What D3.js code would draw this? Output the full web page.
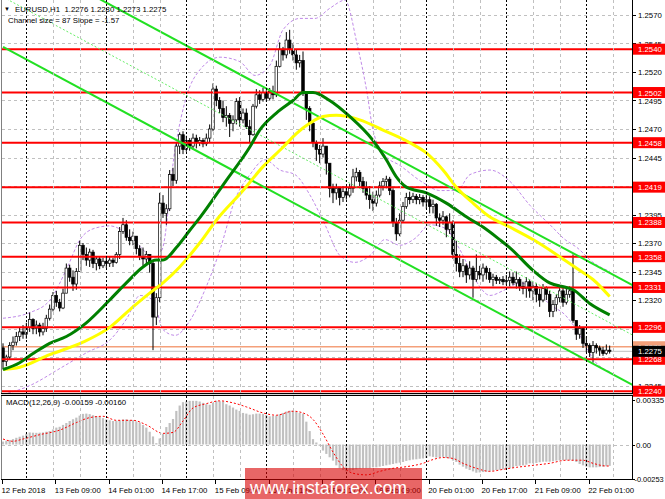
<!DOCTYPE html>
<html><head><meta charset="utf-8">
<script src="https://cdn.jsdelivr.net/npm/d3@7"></script>
<style>body{margin:0;background:#fff}svg{display:block}text{font-family:"Liberation Sans",Arial,sans-serif}</style>
</head><body><svg id="c" width="665" height="499"></svg>
<script>
// ---- data (prices as 4-digit fraction: 2275 -> 1.2275) ----
const firstOpen = 2278;
const closes = [2266,2270,2280,2283,2288,2292,2290,
2296,2303,2295,2298,2292,2295,2304,2312,2324,2318,2313,2326,
2348,2340,2334,2345,2368,2360,2355,2362,2352,2356,2350,2354,
2352,2355,2353,2360,2380,2386,2375,2372,2376,2365,2358,2356,2360,2352,
2305,2322,2405,2396,2400,2430,2425,2455,2465,2452,
2460,2455,2462,2458,2460,2457,2462,2470,2505,2495,2488,2480,
2482,2475,2478,2494,2478,2484,2472,2465,2490,2500,2496,2502,
2497,2503,2500,2525,2540,2535,2548,2540,2535,2528,2530,2502,
2488,2475,2458,2452,2448,2455,2440,2418,2414,2418,2410,2415,
2412,2418,2428,2432,2424,2418,2412,2408,2405,2412,2420,2424,
2426,2416,2388,2378,2390,2402,2410,2408,2411,2408,2410,2406,
2408,2402,2404,2392,2390,2393,2382,2388,2360,2352,2345,2350,
2342,2348,2338,2345,2342,2348,2344,2338,2340,2337,2338,2336,
2337,2340,2335,2338,2332,2330,2336,2328,2332,2325,2320,2330,
2325,2310,2316,2322,2328,2318,2325,2328,2302,2290,2295,2282,
2280,2274,2280,2278,2276,2273,2276,2275];
const highs = [2282,2272,2283,2288,2292,2296,2298,
2300,2309,2304,2302,2300,2300,2307,2316,2327,2328,2321,2330,
2352,2351,2346,2348,2372,2370,2366,2365,2364,2358,2358,2357,
2357,2358,2357,2362,2384,2392,2390,2382,2380,2376,2368,2366,2363,2358,
2355,2326,2414,2412,2404,2434,2436,2458,2467,2468,
2464,2462,2466,2465,2463,2462,2466,2474,2510,2508,2498,2495,
2490,2484,2482,2497,2498,2488,2488,2478,2492,2505,2504,2506,
2504,2506,2508,2530,2546,2542,2555,2557,2545,2540,2535,2538,
2502,2490,2476,2460,2456,2462,2455,2440,2422,2422,2418,2420,
2420,2422,2435,2436,2434,2428,2424,2420,2415,2416,2424,2427,
2429,2428,2418,2392,2396,2406,2414,2415,2414,2413,2413,2412,
2412,2411,2408,2405,2396,2398,2394,2396,2390,2372,2360,2356,
2352,2354,2350,2360,2350,2352,2350,2348,2343,2342,2340,2341,
2342,2345,2344,2345,2340,2336,2340,2338,2336,2335,2330,2334,
2332,2328,2320,2325,2332,2332,2330,2332,2360,2302,2298,2296,
2288,2282,2284,2282,2280,2279,2281,2280];
const lows = [2259,2262,2268,2276,2280,2284,2286,
2286,2292,2290,2290,2288,2289,2292,2302,2310,2314,2310,2312,
2326,2336,2328,2329,2345,2355,2350,2349,2348,2346,2347,2348,
2348,2349,2349,2352,2356,2378,2372,2368,2368,2360,2355,2350,2350,2344,
2276,2298,2318,2392,2386,2398,2420,2422,2448,2448,
2450,2451,2452,2453,2455,2454,2455,2458,2468,2490,2484,2476,
2472,2463,2468,2474,2472,2475,2470,2458,2464,2488,2492,2494,
2494,2495,2496,2498,2524,2530,2532,2536,2530,2522,2524,2499,
2478,2468,2454,2442,2440,2445,2430,2410,2405,2408,2403,2406,
2408,2410,2414,2424,2420,2414,2408,2400,2398,2402,2410,2416,
2418,2412,2384,2372,2376,2388,2400,2404,2405,2404,2404,2402,
2400,2396,2396,2385,2384,2386,2375,2378,2356,2345,2340,2340,
2335,2338,2322,2336,2338,2336,2338,2335,2332,2334,2334,2333,
2333,2332,2333,2330,2328,2325,2322,2322,2320,2318,2314,2318,
2320,2305,2305,2310,2318,2314,2316,2322,2300,2285,2286,2278,
2274,2270,2265,2273,2271,2271,2272,2273];

const maGreenK = [0,5,9,14,19,25,32,37,42,46,48,52,56,59,67,74,77,82,87,90,93,98,104,111,115,118,121,127,133,139,144,149,152,159,164,169,171,176,182];
const maGreenV = [2259,2265,2273,2282,2288,2300,2320,2335,2349,2355,2355,2366,2381,2392,2425,2454,2469,2484,2495,2502,2502,2495,2481,2460,2443,2428,2419,2414,2405,2393,2384,2373,2366,2346,2335,2331,2329,2317,2307];
const maYellowK = [0,5,14,24,32,39,44,48,53,59,64,72,78,84,88,92,96,100,107,114,122,127,132,136,141,146,152,159,167,173,177,182];
const maYellowV = [2259,2261,2272,2283,2296,2314,2326,2335,2349,2370,2390,2416,2437,2454,2466,2475,2481,2482,2478,2469,2458,2449,2434,2419,2405,2393,2384,2373,2358,2346,2338,2323];

// purple dashed bands (read approximately)
const bandUpK = [0,8.1,14.1,19.2,23.1,27.6,32.1,37.2,41.1,45,47.7,51.6,55.2,59.1,65.1,71.1,75.6,80.1,84,89.1,93.6,98.1,102.6,106.2,109.2,111,114.6,119.1,126,131.1,136.2,140.1,146.1,152.1,158.1,164.1,168.6,172.2,177,182.1];
const bandUpV = [2304,2309,2320,2348,2373,2383,2385,2378,2367,2357,2364,2452,2500,2522,2533,2529,2517,2526,2557,2567,2567,2576,2583,2545,2502,2469,2447,2438,2423,2416,2416,2430,2434,2424,2403,2386,2373,2366,2353,2345];
const bandLoK = [0,8.1,17.1,25.2,32.1,37.2,41.1,45,48,51.6,56.1,60.6,65.1,69.6,74.1,78.6,83.1,87.6,92.1,96.6,101.1,105.6,110.1,114.6,119.1,123.6,128.1,132.6,137.1,141.6,146.1,150.6,155.1,159.6,164.1,168.6,173.1,177.6,182.1];
const bandLoV = [2237,2245,2260,2274,2285,2304,2324,2320,2294,2289,2302,2329,2364,2408,2430,2443,2434,2430,2412,2386,2359,2353,2359,2373,2368,2374,2386,2383,2364,2338,2324,2329,2335,2329,2316,2307,2289,2266,2257];

const channelK = [0,189];
const channelUpper = [2629.5,2332.8];
const channelMid = [2585.75,2289.05];
const channelLower = [2542,2245.3];

const levels = [1.2540,1.2502,1.2458,1.2419,1.2388,1.2358,1.2331,1.2296,1.2268,1.2240];
const priceTicks = [1.2570,1.2545,1.2520,1.2495,1.2470,1.2445,1.2420,1.2395,1.2370,1.2345,1.2320,1.2295,1.2270,1.2245];
const bidPrice = 1.2275, askPrice = 1.2279;

const timeK = [0,16,32,48,64,80,96,112,128,144,160,176];
const timeText = ["12 Feb 2018","13 Feb 09:00","14 Feb 01:00","14 Feb 17:00","15 Feb 09:00","16 Feb 01:00","16 Feb 17:00","19 Feb 09:00","20 Feb 01:00","20 Feb 17:00","21 Feb 09:00","22 Feb 01:00"];

// MACD in units of 0.00001
const macdHist = [22,28,34,40,50,58,66,80,90,
88,87,88,90,95,100,112,126,132,146,
160,175,188,200,215,228,230,226,218,212,206,196,
187,180,175,177,180,186,187,183,180,172,163,145,126,95,
60,10,45,80,130,160,190,250,290,315,
320,325,325,325,320,310,300,296,310,325,322,320,
300,290,275,260,250,235,230,222,225,230,230,228,
220,210,212,216,225,235,245,252,250,243,235,230,
170,100,40,15,-10,-45,-70,-95,-120,-155,-177,-190,
-200,-195,-190,-185,-180,-177,-177,-177,-170,-170,-165,-160,
-155,-150,-145,-140,-135,-130,-122,-117,-112,-110,-106,-104,
-100,-88,-92,-97,-95,-92,-100,-104,-120,-130,-150,-165,
-180,-190,-200,-210,-208,-205,-202,-200,-195,-190,-188,-185,
-180,-177,-172,-160,-158,-155,-150,-140,-140,-137,-132,-128,
-128,-128,-125,-120,-117,-117,-117,-117,-120,-130,-145,-155,
-165,-170,-170,-170,-168,-165,-162,-159];
const signalK = [0,3,6,11,17,22,26,30,34,39,43,48,51,54,57,61,65,69,73,78,82,87,90,93,96,99,102,105,109,113,117,121,126,129,132,135,138,142,146,150,154,159,164,169,174,177,181,182];
const signalV = [41,24,41,73,107,163,200,210,180,180,146,83,90,175,272,304,325,310,280,235,218,248,235,187,78,-56,-165,-214,-226,-200,-177,-165,-140,-112,-97,-104,-140,-177,-200,-185,-170,-155,-140,-117,-117,-140,-160,-160];
const macdTicks = [0.00335,0,-0.00253];

// ---- drawing ----
const P = v => 1 + v/10000;
const M = v => v/100000;
const svg = d3.select('#c');
const x = d3.scaleLinear().domain([0,189]).range([3,633]);
const y = d3.scaleLinear().domain([1.2570,1.2370]).range([15,243]);
const ym = d3.scaleLinear().domain([0.00335,-0.00253]).range([399.5,478.5]);
const L = 2, R = 632, MAINB = 393, MT = 396, MB = 479;

const defs = svg.append('defs');
defs.append('clipPath').attr('id','cm').append('rect').attr('x',L).attr('y',0).attr('width',R-L).attr('height',MAINB);
defs.append('clipPath').attr('id','cd').append('rect').attr('x',L).attr('y',MT).attr('width',R-L).attr('height',MB-MT);

const gMain = svg.append('g').attr('clip-path','url(#cm)');
const gMacd = svg.append('g').attr('clip-path','url(#cd)');

// vertical grid
const gridK = d3.range(7,189,8);
svg.append('g').selectAll('line').data(gridK).join('line')
  .attr('x1',d=>Math.round(x(d))+0.5).attr('x2',d=>Math.round(x(d))+0.5)
  .attr('y1',0).attr('y2',MB)
  .attr('stroke',d=>((d-7)%24===0)?'#000':'#c0c0c0')
  .attr('stroke-width',1)
  .attr('stroke-dasharray',d=>((d-7)%24===0)?'2,2':'3,3');
// horizontal grid
gMain.append('g').selectAll('line').data(priceTicks).join('line')
  .attr('x1',L).attr('x2',R).attr('y1',d=>Math.round(y(d))+0.5).attr('y2',d=>Math.round(y(d))+0.5)
  .attr('stroke','#c0c0c0').attr('stroke-dasharray','3,3');
gMacd.append('line').attr('x1',L).attr('x2',R).attr('y1',Math.round(ym(0))+0.5).attr('y2',Math.round(ym(0))+0.5)
  .attr('stroke','#c0c0c0').attr('stroke-dasharray','3,3');

// bid/ask lines
gMain.append('line').attr('x1',L).attr('x2',R).attr('y1',y(askPrice)).attr('y2',y(askPrice)).attr('stroke','#f4a07a').attr('stroke-width',1.3);
gMain.append('line').attr('x1',L).attr('x2',R).attr('y1',y(bidPrice)).attr('y2',y(bidPrice)).attr('stroke','#c0c0c0').attr('stroke-width',1);

// purple bands
const curve = d3.line().x(d=>x(d[0])).y(d=>y(P(d[1]))).curve(d3.curveMonotoneX);
[[bandUpK,bandUpV],[bandLoK,bandLoV]].forEach(([K,V])=>{
  gMain.append('path').attr('d',curve(K.map((k,i)=>[k,V[i]])))
    .attr('stroke','#c08ae8').attr('stroke-width',1).attr('stroke-dasharray','3,2').attr('fill','none');
});

// candles
const candles = closes.map((c,i)=>{
  const o = i===0?firstOpen:closes[i-1];
  return {i,o,c,h:Math.max(highs[i],o,c),l:Math.min(lows[i],o,c)};
});
const cg = gMain.append('g');
cg.selectAll('line').data(candles).join('line')
  .attr('x1',d=>x(d.i)).attr('x2',d=>x(d.i))
  .attr('y1',d=>y(P(d.h))).attr('y2',d=>y(P(d.l)))
  .attr('stroke','#000').attr('stroke-width',1);
cg.selectAll('rect').data(candles).join('rect')
  .attr('x',d=>x(d.i)-1.3).attr('width',2.6)
  .attr('y',d=>y(P(Math.max(d.o,d.c))))
  .attr('height',d=>Math.max(0.8,Math.abs(y(P(d.o))-y(P(d.c)))))
  .attr('fill',d=>d.c>=d.o?'#fff':'#000')
  .attr('stroke','#000').attr('stroke-width',0.7);

// red levels
gMain.append('g').selectAll('line').data(levels).join('line')
  .attr('x1',L).attr('x2',R).attr('y1',d=>y(d)).attr('y2',d=>y(d))
  .attr('stroke','#ff0000').attr('stroke-width',2);

// channel
const chLine = arr => [[channelK[0],arr[0]],[channelK[1],arr[1]]];
const lineP = d3.line().x(d=>x(d[0])).y(d=>y(P(d[1])));
gMain.append('path').attr('d',lineP(chLine(channelUpper))).attr('stroke','#22e022').attr('stroke-width',2).attr('fill','none');
gMain.append('path').attr('d',lineP(chLine(channelLower))).attr('stroke','#22e022').attr('stroke-width',2).attr('fill','none');
gMain.append('path').attr('d',lineP(chLine(channelMid))).attr('stroke','#66ee66').attr('stroke-width',1).attr('stroke-dasharray','2,2').attr('fill','none');

// moving averages
gMain.append('path').attr('d',curve(maYellowK.map((k,i)=>[k,maYellowV[i]]))).attr('stroke','#ffff00').attr('stroke-width',3).attr('fill','none');
gMain.append('path').attr('d',curve(maGreenK.map((k,i)=>[k,maGreenV[i]]))).attr('stroke','#008000').attr('stroke-width',3).attr('fill','none');

// MACD
gMacd.append('g').selectAll('rect').data(macdHist).join('rect')
  .attr('x',(d,i)=>x(i)-1.1).attr('width',2.2)
  .attr('y',d=>Math.min(ym(0),ym(M(d)))).attr('height',d=>Math.abs(ym(M(d))-ym(0)))
  .attr('fill','#c0c0c0');
gMacd.append('path').attr('d',d3.line().x(d=>x(d[0])).y(d=>ym(M(d[1]))).curve(d3.curveMonotoneX)(signalK.map((k,i)=>[k,signalV[i]])))
  .attr('stroke','#ff0000').attr('stroke-width',1).attr('stroke-dasharray','2,2').attr('fill','none');

// frame
svg.append('line').attr('x1',1.5).attr('x2',1.5).attr('y1',0).attr('y2',MB).attr('stroke','#808080');
svg.append('line').attr('x1',R+0.5).attr('x2',R+0.5).attr('y1',0).attr('y2',MB).attr('stroke','#000');
svg.append('line').attr('x1',1).attr('x2',R+1).attr('y1',MAINB+0.5).attr('y2',MAINB+0.5).attr('stroke','#000');
svg.append('rect').attr('x',1).attr('y',MAINB+1).attr('width',R).attr('height',2).attr('fill','#d4d4d4');
svg.append('line').attr('x1',1).attr('x2',R+1).attr('y1',MT-0.5).attr('y2',MT-0.5).attr('stroke','#000');
svg.append('line').attr('x1',1).attr('x2',R+1).attr('y1',MB+0.5).attr('y2',MB+0.5).attr('stroke','#000');

// price axis
const fs = 7.8;
const ax = svg.append('g');
ax.selectAll('line.t').data(priceTicks).join('line').attr('class','t')
  .attr('x1',R).attr('x2',R+4).attr('y1',d=>Math.round(y(d))+0.5).attr('y2',d=>Math.round(y(d))+0.5).attr('stroke','#000');
ax.selectAll('text.t').data(priceTicks).join('text').attr('class','t')
  .attr('x',R+6).attr('y',d=>y(d)+3).attr('font-size',fs).attr('fill','#000')
  .text(d=>d.toFixed(4));
// MACD axis
ax.selectAll('line.m').data(macdTicks).join('line').attr('class','m')
  .attr('x1',R).attr('x2',R+3).attr('y1',d=>Math.round(ym(d))+0.5).attr('y2',d=>Math.round(ym(d))+0.5).attr('stroke','#000');
ax.selectAll('text.m').data(macdTicks).join('text').attr('class','m')
  .attr('x',d=>d<0?R+2.5:R+4).attr('y',d=>ym(d)+3).attr('font-size',d=>d<0?7.4:fs).attr('fill','#000')
  .text(d=>d===0?'0.00':d.toFixed(5));

// level labels
const lab = svg.append('g');
function tag(p,bg,fg){
  const yy = y(p);
  lab.append('rect').attr('x',R+1).attr('y',yy-5.5).attr('width',33).attr('height',11).attr('fill',bg);
  lab.append('text').attr('x',R+6).attr('y',yy+3).attr('font-size',fs).attr('fill',fg).text(p.toFixed(4));
}
levels.forEach(l=>tag(l,'#ff0000','#fff'));
tag(askPrice,'#f4a07a','#fff');
tag(bidPrice,'#000','#fff');

// time axis
const tg = svg.append('g');
tg.selectAll('line').data(timeK).join('line')
  .attr('x1',d=>Math.round(x(d))-0.5).attr('x2',d=>Math.round(x(d))-0.5).attr('y1',MB).attr('y2',MB+5).attr('stroke','#000');
tg.selectAll('text').data(timeK).join('text')
  .attr('x',d=>x(d)-1.5).attr('y',493).attr('font-size',fs).attr('fill','#000')
  .text((d,i)=>timeText[i]);

// titles
svg.append('text').attr('x',4).attr('y',11).attr('font-size',6).attr('font-family','DejaVu Sans').text('▼');
svg.append('text').attr('x',15).attr('y',11.5).attr('font-size',fs).attr('xml:space','preserve').text('EURUSD,H1  1.2276 1.2280 1.2273 1.2275');
svg.append('text').attr('x',8).attr('y',22.5).attr('font-size',fs).text('Channel size = 87 Slope = -1.57');
svg.append('text').attr('x',6).attr('y',405).attr('font-size',fs).text('MACD(12,26,9) -0.00159 -0.00160');

// watermark
svg.append('rect').attr('x',245).attr('y',468).attr('width',177).attr('height',31).attr('fill','rgb(217,0,0)').attr('opacity',0.6);
svg.append('text').attr('x',250).attr('y',494).attr('font-size',19).attr('fill','#fff')
  .attr('textLength',157).attr('lengthAdjust','spacingAndGlyphs').text('www.instaforex.com');
</script></body></html>
